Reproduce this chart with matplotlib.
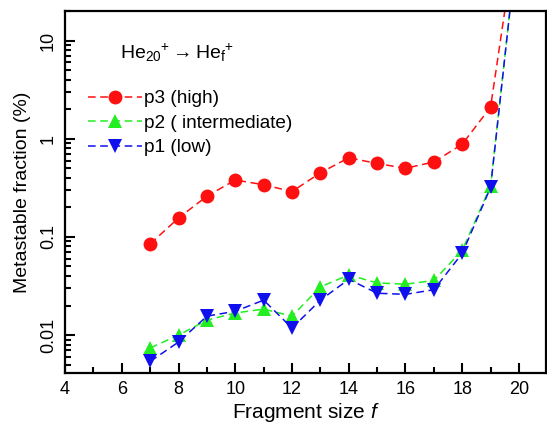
import numpy as np
import matplotlib
matplotlib.use('Agg')
import matplotlib.pyplot as plt
from matplotlib.ticker import FixedLocator, LogLocator, NullFormatter

plt.rcParams['font.family'] = ['Liberation Sans', 'DejaVu Sans']
plt.rcParams['mathtext.fontset'] = 'custom'
plt.rcParams['mathtext.rm'] = 'Liberation Sans'
plt.rcParams['mathtext.it'] = 'Liberation Sans:italic'

# fragment sizes and metastable fractions (%)
sizes = [7, 8, 9, 10, 11, 12, 13, 14, 15, 16, 17, 18, 19, 20]
p3_high = [0.085, 0.156, 0.26, 0.38, 0.34, 0.29, 0.45, 0.64, 0.56, 0.50, 0.58, 0.88, 2.1, 190]
p2_mid = [0.0074, 0.010, 0.0142, 0.0168, 0.0184, 0.0156, 0.031, 0.041, 0.034, 0.033, 0.036, 0.073, 0.33, 140]
p1_low = [0.0054, 0.0085, 0.0156, 0.0175, 0.0227, 0.0118, 0.0227, 0.037, 0.0267, 0.026, 0.029, 0.068, 0.32, 140]

labels = ['p3 (high)', 'p2 ( intermediate)', 'p1 (low)']
colors = ['#ff1010', '#22ee22', '#1010ee']
markers = ['o', '^', 'v']

fig = plt.figure(figsize=(5.47, 4.24), dpi=100)
ax = fig.add_axes([0.119, 0.120, 0.879, 0.854])

for ys, lab, c, m in zip([p3_high, p2_mid, p1_low], labels, colors, markers):
    ax.plot(sizes, ys, linestyle=(0, (5, 3)), linewidth=1.1, color=c,
            marker=m, markersize=10, markeredgewidth=0, label=lab)

ax.set_yscale('log')
ax.set_xlim(4, 20.95)
ax.set_ylim(0.0041, 20)

ax.xaxis.set_major_locator(FixedLocator([4, 6, 8, 10, 12, 14, 16, 18, 20]))
ax.xaxis.set_minor_locator(FixedLocator([5, 7, 9, 11, 13, 15, 17, 19]))
ax.yaxis.set_major_locator(FixedLocator([0.01, 0.1, 1, 10]))
ax.set_yticklabels(['0.01', '0.1', '1', '10'], rotation=90, va='center')
ax.yaxis.set_minor_locator(LogLocator(base=10, subs=np.arange(2, 10)))
ax.yaxis.set_minor_formatter(NullFormatter())

ax.tick_params(which='both', direction='in', top=False, right=False,
               labelsize=13, width=1.5)
ax.tick_params(which='major', length=7, pad=6)
ax.tick_params(which='minor', length=4)
for s in ax.spines.values():
    s.set_linewidth(1.6)

ax.set_xlabel('Fragment size $f$', fontsize=15, labelpad=2)
ax.set_ylabel('Metastable fraction (%)', fontsize=14, labelpad=6)

ax.text(0.114, 0.885, r'He$_{20}$$^{+}$$\rightarrow$He$_{\mathrm{f}}$$^{+}$',
        transform=ax.transAxes, fontsize=14, va='center')
ax.legend(loc='upper left', bbox_to_anchor=(0.048, 0.782), frameon=False,
          fontsize=13.7, handlelength=2.85, handletextpad=0.1,
          labelspacing=0.38, borderaxespad=0, borderpad=0)

fig.savefig('out.png', dpi=100)
